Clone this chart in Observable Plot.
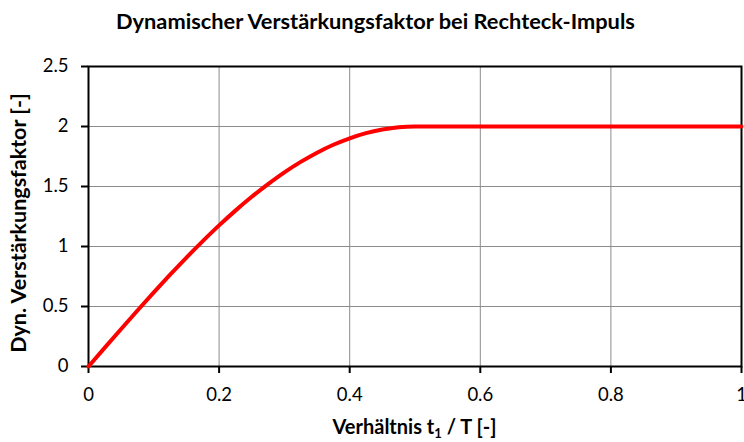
<!DOCTYPE html>
<html>
<head>
<meta charset="utf-8">
<script src="https://cdn.jsdelivr.net/npm/d3@7"></script>
<script src="https://cdn.jsdelivr.net/npm/@observablehq/plot@0.6"></script>
<style>
  html, body { margin: 0; padding: 0; background: #fff; }
  #wrap { position: relative; width: 744px; height: 442px; overflow: hidden; font-family: Lato, "Open Sans", sans-serif; }
  .title { position: absolute; left: 0; width: 751px; top: 10px; line-height: 1; text-align: center; font-weight: bold; font-size: 21.8px; color: #000; white-space: nowrap; }
  .xlabel { position: absolute; left: 88px; width: 653px; top: 416px; line-height: 1; text-align: center; font-weight: bold; font-size: 20px; color: #000; white-space: nowrap; }
  .xlabel sub { font-size: 13px; vertical-align: -4px; line-height: 0; }
  .ylabel { position: absolute; left: 19px; top: 223px; line-height: 1; transform: translate(-50%, -50%) rotate(-90deg); white-space: nowrap; font-weight: bold; font-size: 21.5px; color: #000; }
  #chart { position: absolute; left: 0; top: 0; }
</style>
</head>
<body>
<div id="wrap">
  <div id="chart"></div>
  <div class="title">Dynamischer Verstärkungsfaktor bei Rechteck-Impuls</div>
  <div class="xlabel">Verhältnis t<sub>1</sub> / T [-]</div>
  <div class="ylabel">Dyn. Verstärkungsfaktor [-]</div>
</div>
<script>
const ratio = [0, 0.025, 0.05, 0.075, 0.1, 0.125, 0.15, 0.175, 0.2, 0.225, 0.25, 0.275, 0.3, 0.325, 0.35, 0.375, 0.4, 0.425, 0.45, 0.475, 0.5, 0.6, 0.7, 0.8, 0.9, 1.0];
const factor = [0, 0.157, 0.313, 0.467, 0.618, 0.765, 0.908, 1.045, 1.176, 1.299, 1.414, 1.52, 1.618, 1.705, 1.782, 1.848, 1.902, 1.945, 1.975, 1.994, 2.0, 2.0, 2.0, 2.0, 2.0, 2.0];
const xTicks = [0, 0.2, 0.4, 0.6, 0.8, 1];
const yTicks = [0, 0.5, 1, 1.5, 2, 2.5];

const data = ratio.map((r, i) => ({ r, f: factor[i] }));

const chart = Plot.plot({
  width: 744,
  height: 442,
  marginTop: 66,
  marginLeft: 88,
  marginRight: 3,
  marginBottom: 76,
  style: { fontFamily: "Lato, 'Open Sans', sans-serif", fontSize: "18.5px", color: "#000", background: "transparent", overflow: "visible" },
  x: { domain: [0, 1] },
  y: { domain: [0, 2.5] },
  marks: [
    Plot.gridX(xTicks, { stroke: "#8c8c8c", strokeOpacity: 1, strokeWidth: 1 }),
    Plot.gridY(yTicks, { stroke: "#8c8c8c", strokeOpacity: 1, strokeWidth: 1 }),
    Plot.frame({ stroke: "#000", strokeWidth: 2 }),
    Plot.axisX(xTicks, { tickSize: 7, tickPadding: 14, strokeWidth: 2, fontSize: 18.5, tickFormat: d => String(d), label: null }),
    Plot.axisY(yTicks, { tickSize: 7, tickPadding: 13, strokeWidth: 2, fontSize: 18.5, tickFormat: d => String(d), label: null }),
    Plot.line(data, { x: "r", y: "f", stroke: "#ff0000", strokeWidth: 4, curve: "monotone-x" })
  ]
});
document.getElementById("chart").appendChild(chart);
</script>
</body>
</html>
